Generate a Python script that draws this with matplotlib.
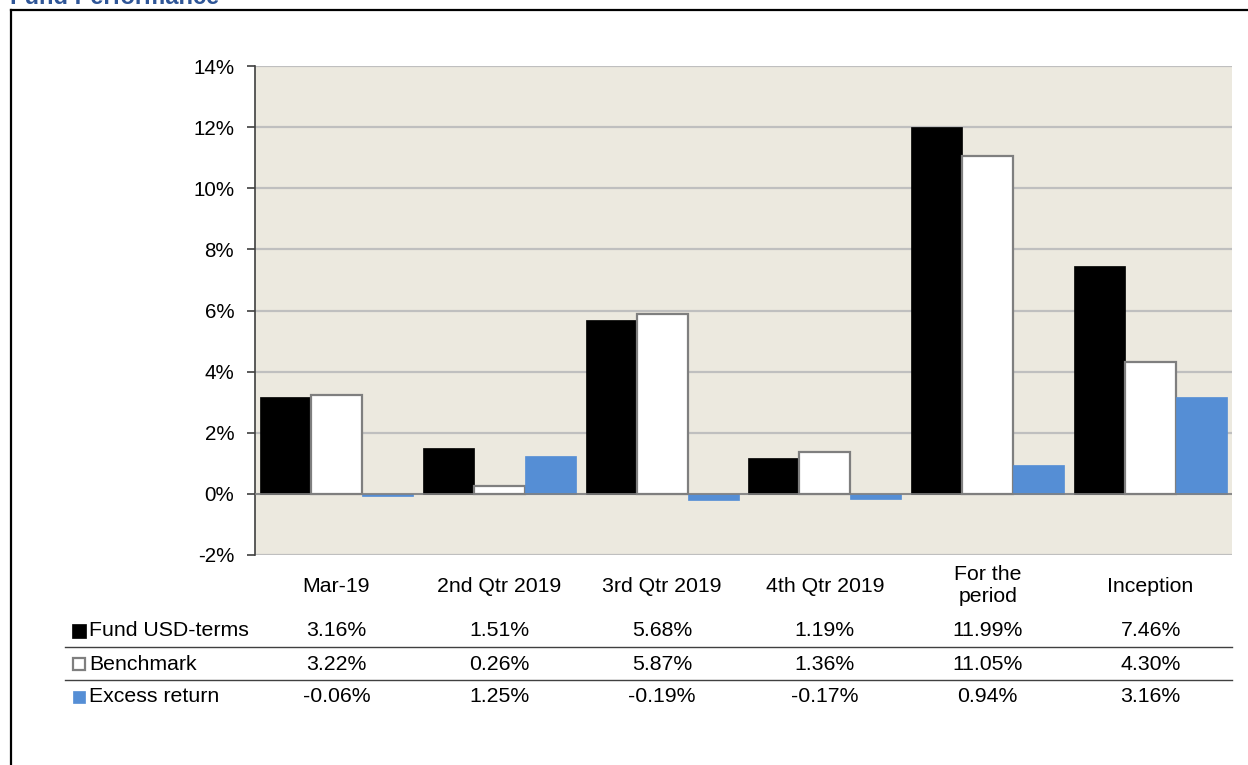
import matplotlib
matplotlib.use("Agg")
import matplotlib.pyplot as plt
import matplotlib.transforms as mtransforms
from matplotlib.patches import Rectangle
from matplotlib.lines import Line2D
import numpy as np

plt.rcParams['font.family'] = ['Liberation Sans', 'DejaVu Sans']

categories = ["Mar-19", "2nd Qtr 2019", "3rd Qtr 2019", "4th Qtr 2019", "For the\nperiod", "Inception"]
fund = [3.16, 1.51, 5.68, 1.19, 11.99, 7.46]
benchmark = [3.22, 0.26, 5.87, 1.36, 11.05, 4.30]
excess = [-0.06, 1.25, -0.19, -0.17, 0.94, 3.16]
series_names = ["Fund USD-terms", "Benchmark", "Excess return"]
yticks = [-2, 0, 2, 4, 6, 8, 10, 12, 14]

W, H = 1248, 765
fig = plt.figure(figsize=(W / 100, H / 100), dpi=100)

def fx(px):
    return px / W

def fy(py):
    return 1 - py / H

ax = fig.add_axes([fx(255), fy(555), fx(1232) - fx(255), fy(66) - fy(555)])
ax.set_facecolor('#ECE9DF')

bw = 0.313
x = np.arange(len(categories))
ax.bar(x - bw, fund, bw, color='black', edgecolor='black', linewidth=0.5, zorder=3)
ax.bar(x, benchmark, bw, color='white', edgecolor='#7F7F7F', linewidth=1.6, zorder=3)
ax.bar(x + bw, excess, bw, color='#558ED5', edgecolor='#558ED5', linewidth=0.5, zorder=3)

ax.set_xlim(-0.5, len(categories) - 0.5)
ax.set_ylim(-2, 14)
ax.set_yticks(yticks)
ax.set_yticklabels([f"{t}%" for t in yticks], fontsize=14.8)
ax.set_xticks([])
ax.yaxis.grid(True, color='#BFBFBF', linewidth=1.6, zorder=0)
ax.axhline(0, color='#808080', linewidth=1.2, zorder=4)
for s in ['top', 'right', 'bottom']:
    ax.spines[s].set_visible(False)
ax.spines['left'].set_color('#404040')
ax.spines['left'].set_linewidth(1.2)
ax.tick_params(axis='y', length=6, width=1.2, color='#404040', pad=9)

# Category labels and data table
trans = mtransforms.blended_transform_factory(ax.transData, fig.transFigure)
for i, c in enumerate(categories):
    fig.text(i, fy(586), c, transform=trans, ha='center', va='center',
             fontsize=15.3, linespacing=1.2)

rows = [fund, benchmark, excess]
row_y = [631, 664, 696]
for vals, yy in zip(rows, row_y):
    for i, v in enumerate(vals):
        fig.text(i, fy(yy), f"{v:.2f}%", transform=trans, ha='center', va='center', fontsize=15.3)

for name, yy in zip(series_names, row_y):
    fig.text(fx(89), fy(yy), name, ha='left', va='center', fontsize=15.3)

# legend keys
fig.patches.append(Rectangle((fx(72), fy(638)), fx(14), fy(624) - fy(638),
                             transform=fig.transFigure, facecolor='black', edgecolor='black', lw=0.5))
fig.patches.append(Rectangle((fx(73), fy(670)), fx(12), fy(658) - fy(670),
                             transform=fig.transFigure, facecolor='white', edgecolor='#7F7F7F', lw=1.6))
fig.patches.append(Rectangle((fx(73), fy(703)), fx(12), fy(691) - fy(703),
                             transform=fig.transFigure, facecolor='#558ED5', edgecolor='#558ED5', lw=0.5))

for yy in [647, 680]:
    fig.add_artist(Line2D([fx(65), fx(1232)], [fy(yy), fy(yy)], color='#404040', lw=1.0))

# outer border
fig.add_artist(Line2D([fx(11), fx(1248)], [fy(10), fy(10)], color='black', lw=1.6))
fig.add_artist(Line2D([fx(11), fx(11)], [fy(10), fy(765)], color='black', lw=1.6))

# title (cut off at top, as in the reference)
fig.text(fx(10), fy(4), "Fund Performance", ha='left', va='baseline',
         fontsize=17, fontweight='bold', color='#2E5597')

fig.savefig('out.png', dpi=100)
